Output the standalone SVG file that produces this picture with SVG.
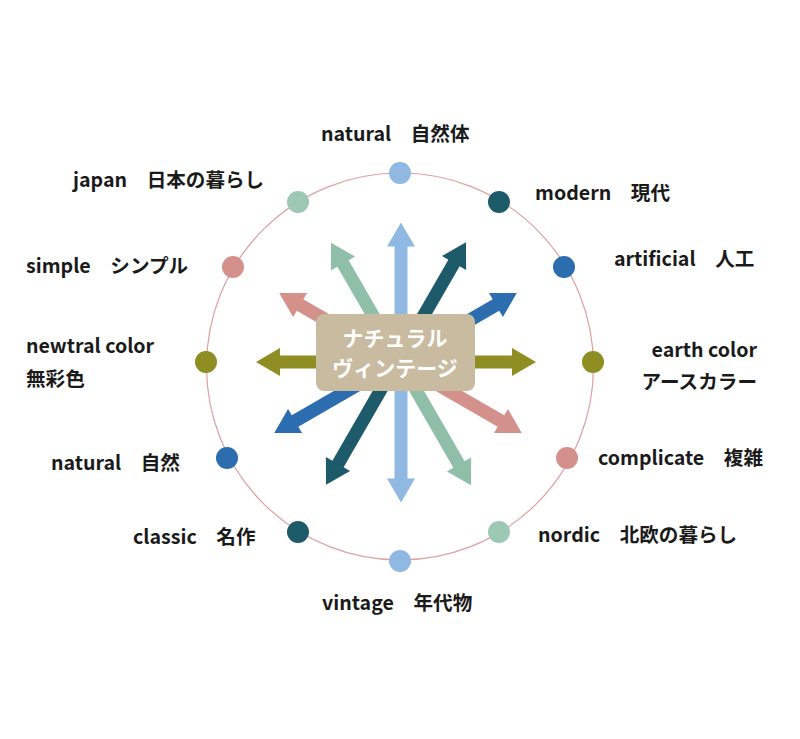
<svg xmlns="http://www.w3.org/2000/svg" width="800" height="739" viewBox="0 0 800 739">
<style>
  .lbl { font-family: "Noto Sans CJK JP", "Noto Sans", sans-serif; font-size: 19.6px; font-weight: 700; fill: #1a1a1a; }
  .ctr { font-family: "Noto Sans CJK JP", "Noto Sans", sans-serif; font-size: 21px; font-weight: 700; fill: #ffffff; text-anchor: middle; }
  .ring { fill: none; stroke: #DDA19C; stroke-width: 1.2; }
</style>
<defs>
  <path id="arr" d="M -140 0 L -116 -14 L -116 -6.5 L 116 -6.5 L 116 -14 L 140 0 L 116 14 L 116 6.5 L -116 6.5 L -116 14 Z"/>
</defs>
<rect width="800" height="739" fill="#ffffff"/>
<circle class="ring" cx="400" cy="366.5" r="193.5"/>
<g id="connectors">
  <use href="#arr" fill="#8E8E22" transform="translate(396,362)"/>
  <use href="#arr" fill="#2C6DAF" transform="translate(395.5,363) rotate(-30)"/>
  <use href="#arr" fill="#D4908A" transform="translate(400.5,363) rotate(30)"/>
  <use href="#arr" fill="#8FBFA9" transform="translate(401,364) rotate(60)"/>
  <use href="#arr" fill="#1D5B6B" transform="translate(396,363.5) rotate(-60)"/>
  <use href="#arr" fill="#8FB8E3" transform="translate(401,362.5) rotate(90)"/>
</g>
<g id="center">
  <rect x="316" y="314" width="159" height="77" rx="8" fill="#C9BBA0"/>
  <text class="ctr" x="395" y="346">ナチュラル</text>
  <text class="ctr" x="395" y="376">ヴィンテージ</text>
</g>
<g id="n-natural-top"><circle cx="400" cy="173" r="11" fill="#8FB8E3"/><text class="lbl" x="321" y="141">natural　自然体</text></g>
<g id="n-modern"><circle cx="499" cy="202" r="11" fill="#1D5B6B"/><text class="lbl" x="535" y="200">modern　現代</text></g>
<g id="n-artificial"><circle cx="564" cy="267" r="11" fill="#2C6DAF"/><text class="lbl" x="614" y="266">artificial　人工</text></g>
<g id="n-earth"><circle cx="593" cy="362" r="11" fill="#8E8E22"/><text class="lbl" x="757" y="357" text-anchor="end">earth color</text><text class="lbl" x="757" y="389" text-anchor="end">アースカラー</text></g>
<g id="n-complicate"><circle cx="567" cy="458" r="11" fill="#D4908A"/><text class="lbl" x="598" y="465">complicate　複雑</text></g>
<g id="n-nordic"><circle cx="499" cy="532" r="11" fill="#9CC8B4"/><text class="lbl" x="538" y="542">nordic　北欧の暮らし</text></g>
<g id="n-vintage"><circle cx="400" cy="561" r="11" fill="#8FB8E3"/><text class="lbl" x="322" y="610">vintage　年代物</text></g>
<g id="n-classic"><circle cx="298" cy="532" r="11" fill="#1D5B6B"/><text class="lbl" x="133" y="544">classic　名作</text></g>
<g id="n-natural-left"><circle cx="227" cy="458" r="11" fill="#2C6DAF"/><text class="lbl" x="51" y="470">natural　自然</text></g>
<g id="n-newtral"><circle cx="206" cy="362" r="11" fill="#8E8E22"/><text class="lbl" x="26" y="353">newtral color</text><text class="lbl" x="26" y="386">無彩色</text></g>
<g id="n-simple"><circle cx="233" cy="267" r="11" fill="#D4908A"/><text class="lbl" x="26" y="273">simple　シンプル</text></g>
<g id="n-japan"><circle cx="298" cy="202" r="11" fill="#9CC8B4"/><text class="lbl" x="73" y="187">japan　日本の暮らし</text></g>
</svg>
